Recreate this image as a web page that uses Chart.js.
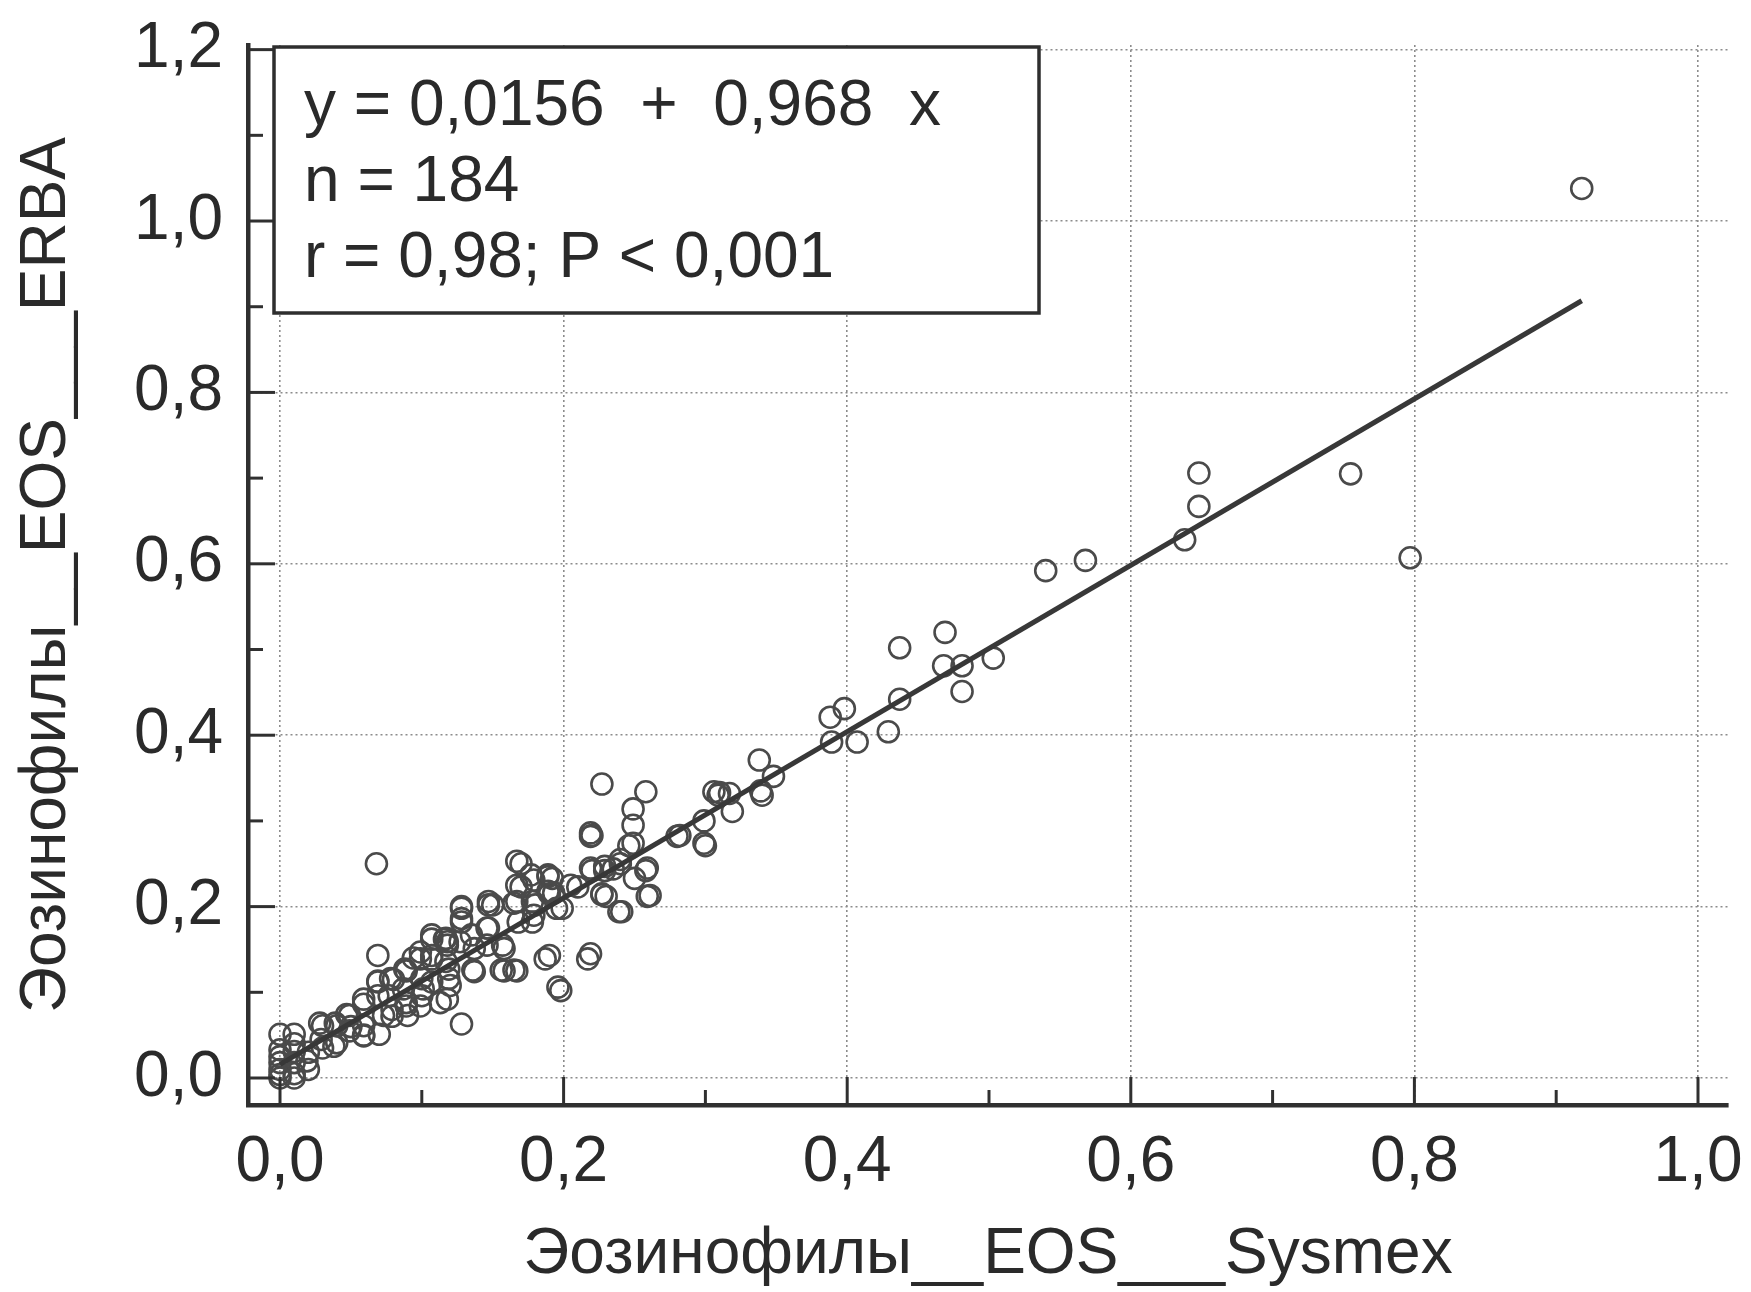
<!DOCTYPE html>
<html><head><meta charset="utf-8">
<script src="https://cdn.jsdelivr.net/npm/chart.js@4.4.1/dist/chart.umd.min.js"></script>
<style>html,body{margin:0;padding:0;background:#fff;}canvas{display:block;}</style>
</head><body>
<canvas id="c" width="1751" height="1292"></canvas>
<script>
// ---- data ----
const sysmexX = [
 0,0,0,0,0,0,0,0.01,0.01,0.01,0.01,0.01,0.01,0.019,0.02,0.02,
 0.028,0.03,0.029,0.03,0.039,0.038,0.04,0.04,0.047,0.049,0.049,0.05,0.059,0.059,0.059,0.059,0.059,
 0.068,0.069,0.069,0.069,0.07,0.069,0.078,0.077,0.079,0.073,0.079,0.08,0.089,0.087,0.089,0.09,0.088,0.089,0.099,0.1,0.1,0.099,0.099,0.101,0.094,
 0.107,0.107,0.107,0.107,0.107,0.116,0.113,0.118,0.119,0.118,0.119,0.117,0.117,0.12,0.128,0.128,0.127,0.118,0.128,0.128,0.128,0.137,0.137,0.135,0.136,
 0.146,0.147,0.146,0.147,0.147,0.15,0.158,0.158,0.157,0.156,0.167,0.165,0.167,0.167,0.167,0.168,0.165,0.17,0.17,0.177,0.178,0.178,0.179,0.179,0.18,0.189,0.189,0.19,0.189,0.19,0.192,0.187,0.195,0.196,0.199,0.198,
 0.205,0.21,0.193,0.219,0.219,0.219,0.219,0.217,0.22,0.22,0.227,0.227,0.229,0.229,0.23,0.227,0.235,0.239,0.24,0.241,0.24,0.249,0.249,0.249,0.25,0.246,0.258,0.259,0.259,0.261,0.258,
 0.28,0.282,0.299,0.3,0.299,0.306,0.31,0.319,0.317,0.309,0.338,0.339,0.34,0.348,
 0.388,0.398,0.389,0.407,0.429,0.437,0.437,0.469,0.468,0.481,0.481,0.503,
 0.54,0.568,0.638,0.648,0.648,0.755,0.797,0.918
];
const erbaY = [
 0,0.004,0.018,0.033,0.051,0.01,0.025,0,0.005,0.018,0.031,0.051,0.04,0.02,0.03,0.01,
 0.064,0.061,0.045,0.035,0.064,0.037,0.061,0.041,0.074,0.073,0.055,0.06,0.086,0.092,0.061,0.049,0.05,
 0.25,0.143,0.112,0.096,0.051,0.113,0.116,0.096,0.08,0.073,0.072,0.115,0.125,0.104,0.088,0.073,0.127,0.084,0.139,0.116,0.096,0.084,0.147,0.104,0.14,
 0.167,0.143,0.112,0.162,0.139,0.162,0.088,0.092,0.116,0.155,0.127,0.163,0.136,0.108,0.198,0.182,0.159,0.159,0.063,0.2,0.186,0.124,0.151,0.167,0.126,
 0.175,0.202,0.155,0.206,0.175,0.202,0.151,0.125,0.155,0.126,0.125,0.126,0.253,0.225,0.206,0.182,0.204,0.223,0.25,0.237,0.206,0.182,0.19,0.231,0.202,0.237,0.218,0.143,0.235,0.215,0.233,0.139,0.198,0.106,0.198,0.102,
 0.225,0.223,0.216,0.286,0.282,0.245,0.145,0.139,0.242,0.283,0.343,0.214,0.247,0.242,0.212,0.215,0.244,0.194,0.255,0.194,0.25,0.314,0.295,0.274,0.233,0.271,0.334,0.245,0.212,0.213,0.242,
 0.282,0.283,0.274,0.271,0.30,0.334,0.333,0.311,0.332,0.33,0.371,0.335,0.33,0.352,
 0.421,0.431,0.392,0.392,0.404,0.502,0.442,0.520,0.481,0.481,0.451,0.49,
 0.592,0.604,0.628,0.667,0.706,0.705,0.607,1.038
];
const fitX = [0.0, 0.918];
const fitY = [0.016, 0.907];
const xTickValues = [0, 0.2, 0.4, 0.6, 0.8, 1.0];
const xTickLabels = ['0,0', '0,2', '0,4', '0,6', '0,8', '1,0'];
const yTickValues = [0, 0.2, 0.4, 0.6, 0.8, 1.0, 1.2];
const yTickLabels = ['0,0', '0,2', '0,4', '0,6', '0,8', '1,0', '1,2'];
const xMinorTicks = [0.1, 0.3, 0.5, 0.7, 0.9];
const yMinorTicks = [0.1, 0.3, 0.5, 0.7, 0.9, 1.1];
const xTitle = 'Эозинофилы__EOS___Sysmex';
const yTitle = 'Эозинофилы__EOS___ERBA';
const statLines = ['y = 0,0156  +  0,968  x', 'n = 184', 'r = 0,98; P < 0,001'];

const FONT = "'Liberation Sans', Arial, sans-serif";
const INK = '#2a2a2a';

const points = sysmexX.map((x, i) => ({x: x, y: erbaY[i]}));
const fitLine = fitX.map((x, i) => ({x: x, y: fitY[i]}));

const decor = {
  id: 'decor',
  beforeDraw(chart) {
    const c = chart.ctx;
    c.save(); c.fillStyle = '#fff'; c.fillRect(0, 0, chart.width, chart.height); c.restore();
  },
  afterDraw(chart) {
    const c = chart.ctx, a = chart.chartArea, xs = chart.scales.x, ys = chart.scales.y;
    c.save();
    c.strokeStyle = '#303030';
    c.lineWidth = 3;
    const seg = (x1, y1, x2, y2) => { c.beginPath(); c.moveTo(x1, y1); c.lineTo(x2, y2); c.stroke(); };
    xTickValues.forEach(v => { const p = xs.getPixelForValue(v); seg(p, a.bottom, p, a.bottom - 28); });
    xMinorTicks.forEach(v => { const p = xs.getPixelForValue(v); seg(p, a.bottom, p, a.bottom - 15); });
    yTickValues.forEach(v => { const p = ys.getPixelForValue(v); seg(a.left, p, a.left + 27, p); });
    yMinorTicks.forEach(v => { const p = ys.getPixelForValue(v); seg(a.left, p, a.left + 15, p); });
    // statistics box
    const bx = 274, by = 47, bw = 765, bh = 266;
    c.fillStyle = '#fff';
    c.fillRect(bx, by, bw, bh);
    c.lineWidth = 3.5;
    c.strokeStyle = '#2e2e2e';
    c.strokeRect(bx, by, bw, bh);
    c.fillStyle = INK;
    c.font = '64px ' + FONT;
    c.textAlign = 'left';
    c.textBaseline = 'alphabetic';
    const base = [125, 201, 277];
    statLines.forEach((t, i) => c.fillText(t, 304, base[i]));
    c.restore();
  }
};

new Chart(document.getElementById('c'), {
  type: 'scatter',
  data: {
    datasets: [
      {
        data: fitLine, showLine: true, borderColor: '#383838', borderWidth: 5,
        pointRadius: 0, fill: false, order: 0
      },
      {
        data: points, pointStyle: 'circle', pointRadius: 10.5, pointHoverRadius: 10.5,
        pointBorderWidth: 2.6, borderColor: '#4a4a4a', backgroundColor: 'rgba(0,0,0,0)',
        pointBackgroundColor: 'rgba(0,0,0,0)', showLine: false, order: 1
      }
    ]
  },
  options: {
    responsive: false, animation: false, devicePixelRatio: 1,
    layout: { padding: { top: 45, right: 23, left: 0, bottom: 0 } },
    plugins: { legend: { display: false }, tooltip: { enabled: false } },
    scales: {
      x: {
        type: 'linear', min: -0.02257, max: 1.02116,
        afterBuildTicks: s => { s.ticks = xTickValues.map(v => ({ value: v })); },
        afterFit: s => { s.height = 187; s.paddingLeft = 0; s.paddingRight = 0; },
        ticks: {
          autoSkip: false, maxRotation: 0, padding: 20, color: INK,
          font: { family: FONT, size: 64 },
          callback: (v, i) => xTickLabels[i]
        },
        grid: { color: '#8c8c8c', lineWidth: 1.6, drawTicks: false, borderDash: [2, 3] },
        border: { display: true, color: '#303030', width: 4.5, dash: [2, 3] },
        title: {
          display: true, text: xTitle, color: INK,
          font: { family: FONT, size: 64, lineHeight: 1.15 }, padding: { top: 0, bottom: 0 }
        }
      },
      y: {
        type: 'linear', min: -0.0315, max: 1.2054,
        afterBuildTicks: s => { s.ticks = yTickValues.map(v => ({ value: v })); },
        afterFit: s => { s.width = 248; s.paddingTop = 0; s.paddingBottom = 0; },
        ticks: {
          autoSkip: false, padding: 25, color: INK,
          font: { family: FONT, size: 64 },
          callback: (v, i) => yTickLabels[i]
        },
        grid: { color: '#8c8c8c', lineWidth: 1.6, drawTicks: false, borderDash: [2, 3] },
        border: { display: true, color: '#303030', width: 4.5, dash: [2, 3] },
        title: {
          display: true, text: yTitle, color: INK,
          font: { family: FONT, size: 64, lineHeight: 1.2 }, padding: { top: 9, bottom: 0 }
        }
      }
    }
  },
  plugins: [decor]
});
</script>
</body></html>
